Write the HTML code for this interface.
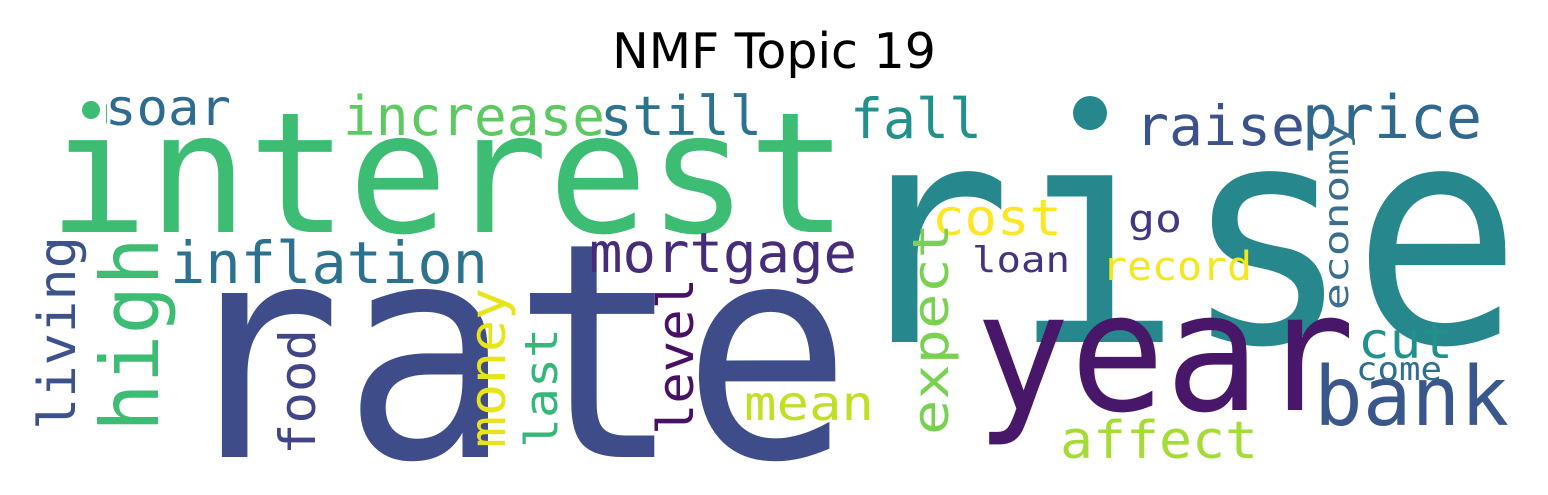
<!DOCTYPE html>
<html><head><meta charset="utf-8"><style>
html,body{margin:0;padding:0;background:#fff;overflow:hidden;}
svg{display:block;}
text{font-family:"DejaVu Sans Mono","Liberation Mono",monospace;}
.t{font-family:"DejaVu Sans","Liberation Sans",sans-serif;}
</style></head><body>
<svg width="1548" height="495" viewBox="0 0 1548 495">
<rect width="1548" height="495" fill="#fff"/>
<text class="t" x="774" y="68" font-size="49" text-anchor="middle" fill="#000">NMF Topic 19</text>
<g id="words"></g>
<g id="fix"></g>
</svg>
<script>
// horizontal words: [word, x, baseline, size, textLength, color]
const hWords = [
 ["interest",48,232,168,800,"#3dbc74"],
 ["rate",172,457,300,680,"#3e4c8a"],
 ["rise",842,342,305,680,"#26878d"],
 ["year",975,410,165,380,"#481769"],
 ["bank",1314,425,82,195,"#3a578c"],
 ["price",1302,138,60,180,"#31688e"],
 ["raise",1135,145,55,170,"#3b528b"],
 ["fall",850,138,55,132,"#23918b"],
 ["increase",343,135,54,262,"#5ec962"],
 ["still",600,135,54,162,"#2c738e"],
 ["soar",105,125,50,126,"#2f6b8e"],
 ["inflation",170,283,58,318,"#2c728e"],
 ["mortgage",589,272,55,268,"#472c7a"],
 ["cost",932,235,50,130,"#fde725"],
 ["go",1128,232,38,54,"#453882"],
 ["loan",972,272,36,98,"#46337f"],
 ["record",1102,280,40,150,"#f6e620"],
 ["cut",1358,358,50,95,"#21918c"],
 ["come",1356,380,32,86,"#2e6e8e"],
 ["affect",1060,458,52,198,"#a5db36"],
 ["mean",744,420,48,130,"#c2df23"]
];
// vertical words: [word, baselineX, bottomY, size, textLength, color]
const vWords = [
 ["high",158,432,80,195,"#3dbc74"],
 ["living",75,430,52,194,"#3b528b"],
 ["food",315,455,50,126,"#414487"],
 ["money",505,448,50,160,"#e8e419"],
 ["last",557,448,45,120,"#35b779"],
 ["level",693,435,50,157,"#471164"],
 ["expect",948,435,50,212,"#7ad151"],
 ["economy",1348,310,34,188,"#3b6e8e"]
];
const NS="http://www.w3.org/2000/svg";
const g=document.getElementById('words');
hWords.forEach(w=>{
  const t=document.createElementNS(NS,'text');
  t.setAttribute('x',w[1]);t.setAttribute('y',w[2]);
  t.setAttribute('font-size',w[3]);t.setAttribute('textLength',w[4]);
  t.setAttribute('lengthAdjust','spacingAndGlyphs');t.setAttribute('fill',w[5]);
  t.textContent=w[0];
  
  
  g.appendChild(t);
});
vWords.forEach(w=>{
  const t=document.createElementNS(NS,'text');
  t.setAttribute('x',0);t.setAttribute('y',0);
  t.setAttribute('transform','translate('+w[1]+','+w[2]+') rotate(-90)');
  t.setAttribute('font-size',w[3]);t.setAttribute('textLength',w[4]);
  t.setAttribute('lengthAdjust','spacingAndGlyphs');t.setAttribute('fill',w[5]);
  t.textContent=w[0];
  
  
  g.appendChild(t);
});
// replace square i-dots with round ones like the reference font
const f=document.getElementById('fix');
function cover(x,y,w,h){
  const r=document.createElementNS(NS,'rect');
  r.setAttribute('x',x);r.setAttribute('y',y);r.setAttribute('width',w);r.setAttribute('height',h);r.setAttribute('fill','#fff');
  
  
  f.appendChild(r);
}
function dot(cx,cy,rad,col,name){
  const c=document.createElementNS(NS,'circle');
  c.setAttribute('cx',cx);c.setAttribute('cy',cy);c.setAttribute('r',rad);c.setAttribute('fill',col);
  
  
  f.appendChild(c);
}
cover(84,94,22,30);
cover(1082,104,36,46);
dot(91,110,9,'#3dbc74','interest-i-dot');
dot(1090,113,17,'#26878d','rise-i-dot');
</script>
</body></html>
